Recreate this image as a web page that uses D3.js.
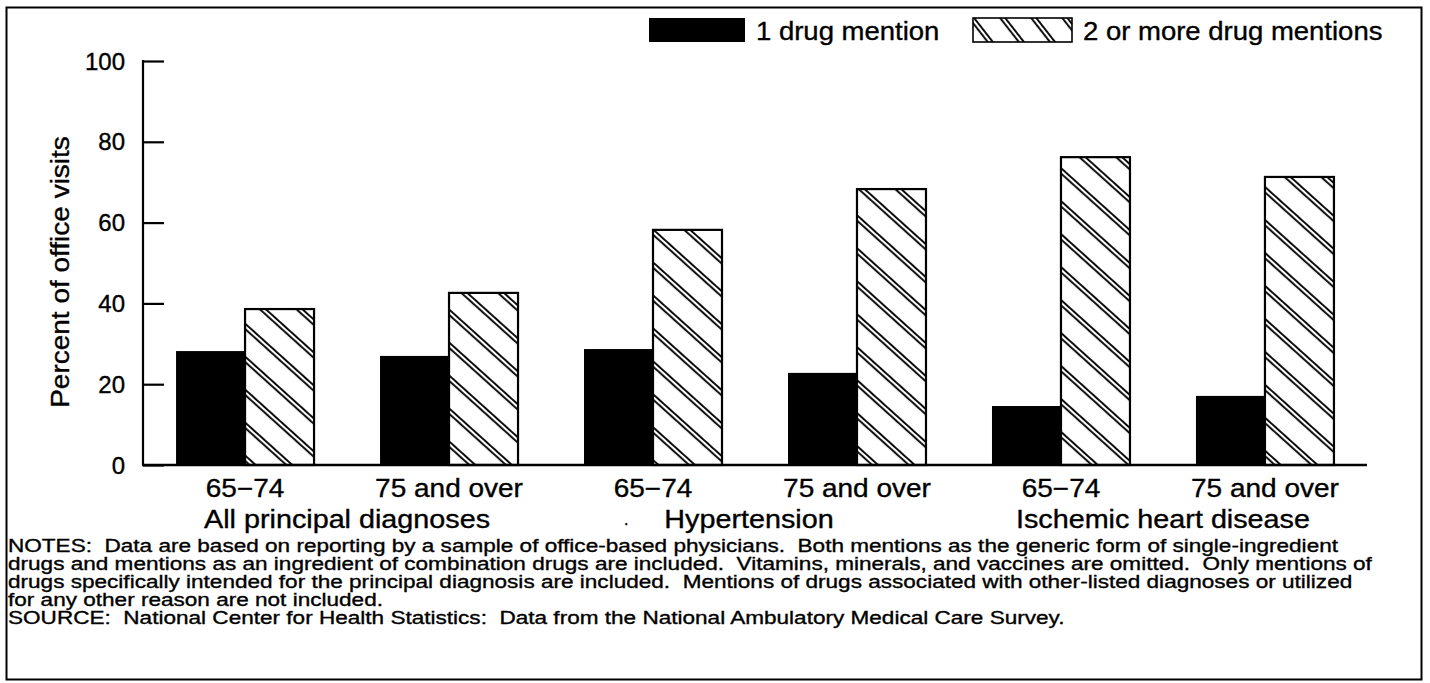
<!DOCTYPE html>
<html>
<head>
<meta charset="utf-8">
<script src="https://cdn.jsdelivr.net/npm/d3@7"></script>
<style>
  html, body { margin: 0; padding: 0; background: #fff; }
  svg { display: block; }
  text { font-family: "Liberation Sans", Arial, Helvetica, sans-serif; fill: #000; stroke: #000; stroke-width: 0.35px; }
</style>
</head>
<body>
<svg id="chart" width="1430" height="683"></svg>
<script>
// Age groups within each diagnosis
const ageGroups = ["65\u221274", "75 and over", "65\u221274", "75 and over", "65\u221274", "75 and over"];
const diagnoses = ["All principal diagnoses", "Hypertension", "Ischemic heart disease"];
const seriesNames = ["1 drug mention", "2 or more drug mentions"];
// Percent of office visits
const oneDrug = [28.2, 27.0, 28.7, 22.8, 14.6, 17.1];
const twoOrMore = [38.6, 42.6, 58.2, 68.3, 76.2, 71.3];
const yTicks = [0, 20, 40, 60, 80, 100];

const notesLines = [
  "NOTES:  Data are based on reporting by a sample of office-based physicians.  Both mentions as the generic form of single-ingredient",
  "drugs and mentions as an ingredient of combination drugs are included.  Vitamins, minerals, and vaccines are omitted.  Only mentions of",
  "drugs specifically intended for the principal diagnosis are included.  Mentions of drugs associated with other-listed diagnoses or utilized",
  "for any other reason are not included.",
  "SOURCE:  National Center for Health Statistics:  Data from the National Ambulatory Medical Care Survey."
];

const svg = d3.select("#chart");

// hatching: pairs of diagonal lines running down to the right
const defs = svg.append("defs");
function hatch(id, angle) {
  const p = defs.append("pattern")
    .attr("id", id)
    .attr("patternUnits", "userSpaceOnUse")
    .attr("width", 12).attr("height", 24.5)
    .attr("patternTransform", `rotate(${angle})`);
  p.append("rect").attr("width", 12).attr("height", 24.5).attr("fill", "#fff");
  [3, 7].forEach(yy => p.append("line")
    .attr("x1", 0).attr("x2", 12).attr("y1", yy).attr("y2", yy)
    .attr("stroke", "#000").attr("stroke-width", 1.9));
}
hatch("hatch", 42);
hatch("hatchKey", 52);

// outer frame
svg.append("rect")
  .attr("x", 6.5).attr("y", 7.5).attr("width", 1415).attr("height", 672)
  .attr("fill", "none").attr("stroke", "#000").attr("stroke-width", 2);

const x0 = 143, x1 = 1367, yBase = 465, yTop = 61;
const y = d3.scaleLinear().domain([0, 100]).range([yBase, yTop]);
const xGroup = d3.scaleBand().domain(d3.range(ageGroups.length))
  .range([x0, x1]).paddingInner(0.3235).paddingOuter(0.162);
const xSeries = d3.scaleBand().domain([0, 1]).range([0, xGroup.bandwidth()]).padding(0);

// y axis with inward ticks
const yAxis = d3.axisRight(y).tickValues(yTicks).tickSize(21).tickFormat(d3.format("d"));
const ya = svg.append("g").attr("transform", `translate(${x0},0)`).call(yAxis);
ya.select(".domain").remove();
ya.selectAll(".tick line").attr("stroke", "#000").attr("stroke-width", 2.2);
ya.selectAll(".tick text")
  .attr("x", -18).attr("dy", "0.34em").attr("text-anchor", "end")
  .attr("fill", "#000")
  .style("font-size", "24px").style("font-family", "'Liberation Sans', Arial, sans-serif");
svg.append("line").attr("x1", x0).attr("x2", x0).attr("y1", yTop - 1).attr("y2", yBase)
  .attr("stroke", "#000").attr("stroke-width", 2.2);

svg.append("text")
  .attr("transform", `translate(69,272) rotate(-90) scale(1.12,1)`)
  .attr("text-anchor", "middle").style("font-size", "25px")
  .text("Percent of office visits");

// bars
const bars = svg.append("g");
ageGroups.forEach((_, i) => {
  const gx = xGroup(i);
  bars.append("rect")
    .attr("x", gx + xSeries(0)).attr("width", xSeries.bandwidth())
    .attr("y", y(oneDrug[i])).attr("height", y(0) - y(oneDrug[i]))
    .attr("fill", "#000");
  bars.append("rect")
    .attr("x", gx + xSeries(1)).attr("width", xSeries.bandwidth())
    .attr("y", y(twoOrMore[i])).attr("height", y(0) - y(twoOrMore[i]))
    .attr("fill", "url(#hatch)").attr("stroke", "#000").attr("stroke-width", 2.2);
});

// baseline
svg.append("line").attr("x1", x0 - 1).attr("x2", x1).attr("y1", yBase).attr("y2", yBase)
  .attr("stroke", "#000").attr("stroke-width", 2.6);

// age group labels
svg.append("g").selectAll("text").data(ageGroups).join("text")
  .attr("transform", (d, i) => `translate(${xGroup(i) + xGroup.bandwidth() / 2},497) scale(1.12,1)`)
  .attr("text-anchor", "middle").style("font-size", "25px")
  .text(d => d);

// diagnosis labels centred under each pair of age groups
svg.append("g").selectAll("text").data(diagnoses).join("text")
  .attr("transform", (d, i) => `translate(${(xGroup(2 * i) + xGroup(2 * i + 1) + xGroup.bandwidth()) / 2 - (i === 1 ? 6 : 0)},528) scale(1.15,1)`)
  .attr("text-anchor", "middle").style("font-size", "25px")
  .text(d => d);
svg.append("text").attr("x", 624).attr("y", 525).style("font-size", "16px").text(".");

// legend
const legend = svg.append("g");
legend.append("rect").attr("x", 649).attr("y", 18).attr("width", 96).attr("height", 24).attr("fill", "#000");
legend.append("text").attr("transform", "translate(756,40) scale(1.1,1)").style("font-size", "25px").text(seriesNames[0]);
legend.append("rect").attr("x", 973).attr("y", 18).attr("width", 99).attr("height", 24)
  .attr("fill", "url(#hatchKey)").attr("stroke", "#000").attr("stroke-width", 1.6);
legend.append("text").attr("transform", "translate(1083,40) scale(1.1,1)").style("font-size", "25px").text(seriesNames[1]);

// notes and source
svg.append("g").selectAll("text").data(notesLines).join("text")
  .attr("transform", (d, i) => `translate(8,${552 + i * 18}) scale(1.22,1)`)
  .style("font-size", "18.5px").style("white-space", "pre")
  .attr("xml:space", "preserve")
  .text(d => d);
</script>
</body>
</html>
